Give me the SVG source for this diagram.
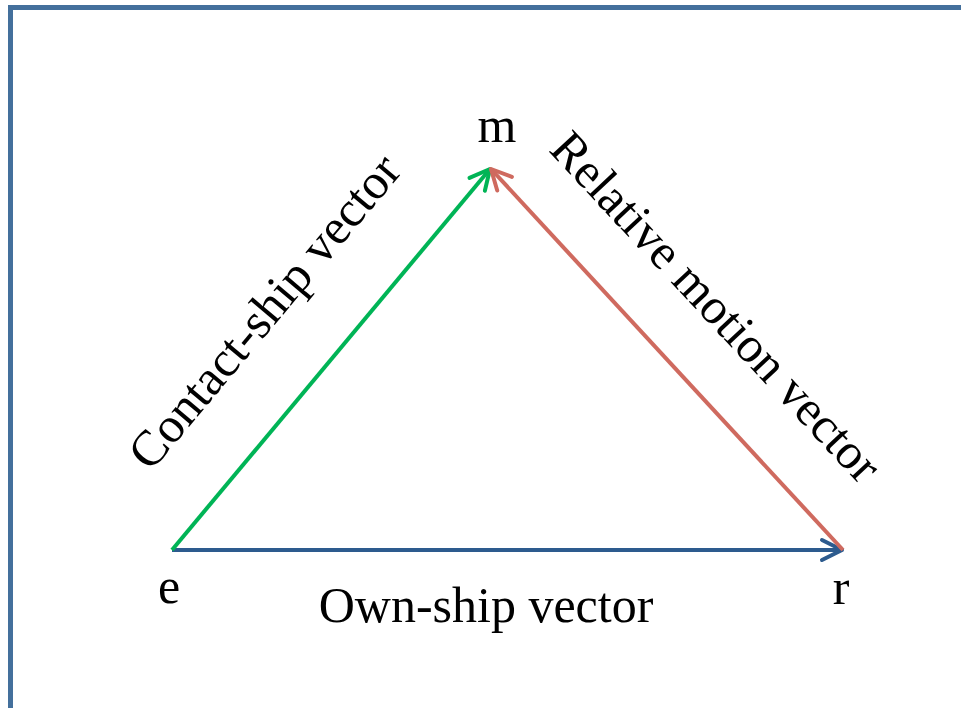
<svg xmlns="http://www.w3.org/2000/svg" width="961" height="708" viewBox="0 0 961 708">
<style>
.lbl{font-family:"Liberation Serif","Times New Roman",serif;font-size:50px;fill:#000}
.vec{fill:none;stroke-width:4}
.head{fill:none;stroke-width:4;stroke-linecap:round;stroke-linejoin:round}
</style>
<defs>
<marker id="ah-blue" markerUnits="userSpaceOnUse" viewBox="-24 -14 28 28" refX="0" refY="0" markerWidth="28" markerHeight="28" orient="auto" overflow="visible"><path class="head" d="M-20,-10 L0,0 L-20,10" stroke="#2d5b8e"/></marker>
<marker id="ah-green" markerUnits="userSpaceOnUse" viewBox="-24 -14 28 28" refX="0" refY="0" markerWidth="28" markerHeight="28" orient="auto" overflow="visible"><path class="head" d="M-20,-10 L0,0 L-20,10" stroke="#00b456"/></marker>
<marker id="ah-red" markerUnits="userSpaceOnUse" viewBox="-24 -14 28 28" refX="0" refY="0" markerWidth="28" markerHeight="28" orient="auto" overflow="visible"><path class="head" d="M-20,-10 L0,0 L-20,10" stroke="#cf6a5f"/></marker>
</defs>
<rect width="961" height="708" fill="#fff"/>
<path d="M10.5,708 V7.5 H961" fill="none" stroke="#44709c" stroke-width="5"/>
<g id="connectors">
<line class="vec" x1="172" y1="550" x2="842" y2="550" stroke="#2d5b8e" marker-end="url(#ah-blue)"/>
<line class="vec" x1="172" y1="550" x2="490" y2="169" stroke="#00b456" marker-end="url(#ah-green)"/>
<line class="vec" x1="843" y1="550" x2="491" y2="169" stroke="#cf6a5f" marker-end="url(#ah-red)"/>
</g>
<g id="node-m"><text class="lbl" x="497" y="142" text-anchor="middle">m</text></g>
<g id="node-e"><text class="lbl" x="169" y="603" text-anchor="middle">e</text></g>
<g id="node-r"><text class="lbl" x="841" y="604" text-anchor="middle">r</text></g>
<g id="label-own"><text class="lbl" x="486" y="622" text-anchor="middle">Own-ship vector</text></g>
<g id="label-contact"><text class="lbl" x="0" y="0" text-anchor="middle" transform="translate(277,322) rotate(-50)">Contact-ship vector</text></g>
<g id="label-relative"><text class="lbl" x="0" y="0" text-anchor="middle" transform="translate(704,318) rotate(47)">Relative motion vector</text></g>
</svg>
